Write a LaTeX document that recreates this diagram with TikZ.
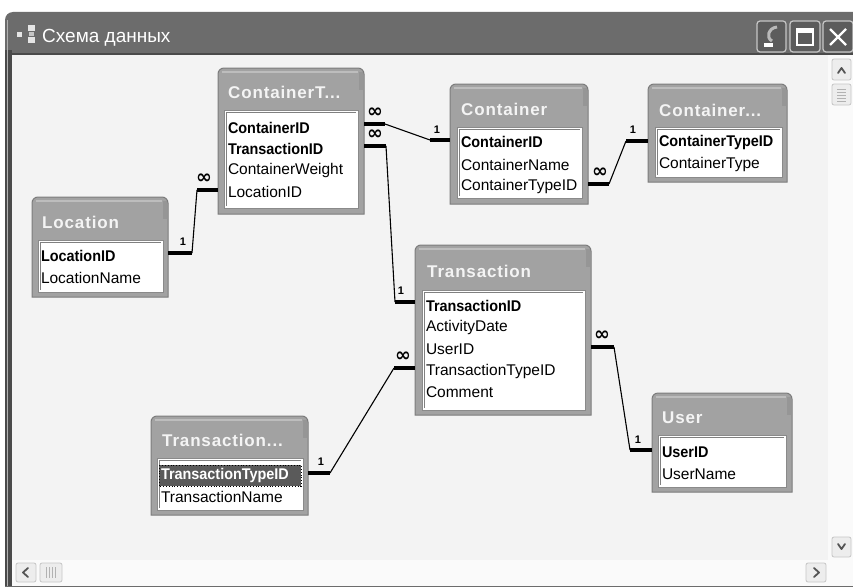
\documentclass[tikz,border=0pt]{standalone}
\usepackage{fontspec}
\setmainfont{Liberation Sans}
\newfontfamily\keyfont[FakeStretch=0.93]{Liberation Sans}
\newfontfamily\hdrfont[LetterSpace=5]{Liberation Sans}
\newfontfamily\symfont{DejaVu Sans}
\definecolor{titlebar}{HTML}{6C6C6C}
\definecolor{titleedge}{HTML}{4A4A4A}
\definecolor{contentbg}{HTML}{F3F3F3}
\definecolor{scrollbg}{HTML}{FAFAFA}
\definecolor{tblgray}{HTML}{A2A2A2}
\definecolor{tbllight}{HTML}{BDBDBD}
\definecolor{tbledge}{HTML}{7C7C7C}
\definecolor{fboxline}{HTML}{8A8A8A}
\definecolor{hdrtext}{HTML}{F4F4F4}
\definecolor{selgray}{HTML}{5A5A5A}
\definecolor{btnfill}{HTML}{EDEDED}
\definecolor{btnline}{HTML}{C6C6C6}
\definecolor{glyph}{HTML}{555555}
\tikzset{
  fld/.style={anchor=west, inner sep=0pt, outer sep=0pt, text=black,
    font=\fontsize{15.5}{18}\selectfont},
  key/.style={fld, font=\keyfont\bfseries\fontsize{15.5}{18}\selectfont},
  hdr/.style={anchor=west, inner sep=0pt, text=hdrtext,
    font=\hdrfont\bfseries\fontsize{17}{20}\selectfont},
  tblnode/.style={inner sep=0pt, outer sep=0pt, anchor=north west, draw=none},
  fieldbox/.style={inner sep=0pt, outer sep=0pt, anchor=north west, fill=white,
    draw=fboxline, line width=1pt},
  stub/.style={line width=3.2pt, line cap=butt, black},
  rel/.style={line width=1.1pt, black},
  one/.style={inner sep=0pt, font=\bfseries\fontsize{11}{12}\selectfont},
  many/.style={inner sep=0pt, font=\symfont\bfseries\fontsize{19}{20}\selectfont},
  winbtn/.style={inner sep=0pt, outer sep=0pt, anchor=north west, fill=titlebar!85!black,
    draw=btnline, line width=1.2pt, rounded corners=3pt},
  sbtn/.style={inner sep=0pt, outer sep=0pt, anchor=north west, fill=btnfill,
    draw=btnline, line width=0.8pt, rounded corners=2pt},
  glyphline/.style={glyph, line width=1.8pt, line cap=round, line join=round},
}
% name, x1, y1, x2, y2, fx1, fy1, fx2, fy2
\newcommand\dbframe[9]{%
  \node[tblnode, minimum width={#4-#2}, minimum height={#5-#3}] (#1) at (#2,#3) {};
  \fill[tblgray] (#1.south west) [rounded corners=6pt] -- (#1.north west) -- (#1.north east) [sharp corners] -- (#1.south east) -- cycle;
  \fill[tbllight] ({#2+4},{#3+3}) rectangle ({#4-6},{#3+5});
  \fill[tbledge!80] ({#4-5},{#3+4}) rectangle ({#4-1},{#3+22});
  \draw[tbledge, line width=1pt] (#1.south west) [rounded corners=6pt] -- (#1.north west) -- (#1.north east) [sharp corners] -- (#1.south east) -- cycle;
  \node[fieldbox, minimum width={#8-#6}, minimum height={#9-#7}] (#1f) at (#6,#7) {};
  \draw[gray, line width=1pt] ({#6+2},{#9-2}) -- ({#6+2},{#7+2}) -- ({#8-2},{#7+2});
}
\begin{document}
\begin{tikzpicture}[x=1pt,y=-1pt]
\useasboundingbox (0,0) rectangle (853,586);
\fill[white] (0,0) rectangle (853,586);
% window frame and title bar
\fill[titlebar] (5,600) [rounded corners=8pt] -- (5,12) -- (870,12) [sharp corners] -- (870,600) -- cycle;
\fill[titleedge] (5,50) rectangle (12,586);
\draw[gray!60, line width=0.8pt] (7,20) -- (7,586);
\fill[contentbg] (12,55) rectangle (828,560);
\fill[scrollbg] (828,55) rectangle (853,560);
\fill[scrollbg] (12,560) rectangle (853,586);
\draw[titleedge, line width=1.5pt] (12,54) -- (853,54);
% title icon and text
\fill[gray!20] (17,32) rectangle (22,37);
\fill[gray!20] (28,25) rectangle (35,31);
\fill[gray!20] (28,37) rectangle (35,43);
\fill[gray!45] (29,32) rectangle (34,36);
\node[anchor=west, inner sep=0pt, text=white, font=\fontsize{19}{22}\selectfont] (wtitle) at (42,38) {Схема данных};
% window buttons
\node[winbtn, minimum width=29, minimum height=31] (bmin) at (757,21) {};
\draw[gray!55, line width=3pt] (777,27) .. controls (768,28) and (766,38) .. (772,41);
\fill[white] (764,43) rectangle (773,47);
\node[winbtn, minimum width=30, minimum height=31] (bmax) at (790,21) {};
\draw[white, line width=1.2pt] (797,29) rectangle (813,45);
\fill[white] (797,29) rectangle (813,33);
\node[winbtn, minimum width=30, minimum height=31] (bcls) at (823,21) {};
\draw[white, line width=2.4pt] (830,29) -- (846,45) (846,29) -- (830,45);
% scrollbars
\node[sbtn, minimum width=19, minimum height=21] (sup) at (832,59) {};
\draw[glyphline] (838,73) -- (841.5,68) -- (845,73);
\node[sbtn, minimum width=19, minimum height=21] (sthumb) at (832,84) {};
\foreach \yy in {89,92,95,98,101} \draw[gray!60, line width=0.8pt] (837,\yy) -- (846,\yy);
\node[sbtn, minimum width=19, minimum height=20] (sdown) at (832,537) {};
\draw[glyphline] (838,544) -- (841.5,549) -- (845,544);
\node[sbtn, minimum width=20, minimum height=19] (sleft) at (16,563) {};
\draw[glyphline] (28,568) -- (23,572.5) -- (28,577);
\node[sbtn, minimum width=22, minimum height=19] (shthumb) at (40,563) {};
\foreach \xx in {46,49,52,55} \draw[gray!60, line width=0.8pt] (\xx,567) -- (\xx,578);
\node[sbtn, minimum width=20, minimum height=19] (sright) at (806,563) {};
\draw[glyphline] (814,568) -- (819,572.5) -- (814,577);

% ---------- tables ----------
\dbframe{ct}{218}{68}{364}{214}{224}{110}{358}{208}
\node[hdr] (ctt) at (228,92) {ContainerT...};
\node[key] (ct1) at (228,127.5) {ContainerID};
\node[key] (ct2) at (228,148.5) {TransactionID};
\node[fld] (ct3) at (228,170) {ContainerWeight};
\node[fld] (ct4) at (228,191.5) {LocationID};

\dbframe{c}{450}{84}{588}{204}{457}{127}{582}{198}
\node[hdr] (ctl) at (461,109) {Container};
\node[key] (c1) at (461,142) {ContainerID};
\node[fld] (c2) at (461,164.5) {ContainerName};
\node[fld] (c3) at (461,186.5) {ContainerTypeID};

\dbframe{cty}{648}{84}{787}{182}{655}{127}{782}{177}
\node[hdr] (ctyt) at (659,110) {Container...};
\node[key] (cty1) at (659,142) {ContainerTypeID};
\node[fld] (cty2) at (659,164) {ContainerType};

\dbframe{loc}{32}{197}{168}{297}{38}{240}{163}{292}
\node[hdr] (loct) at (42,222) {Location};
\node[key] (loc1) at (41,256) {LocationID};
\node[fld] (loc2) at (41,278) {LocationName};

\dbframe{tr}{415}{245}{591}{415}{422}{290}{585}{410}
\node[hdr] (trt) at (427,271) {Transaction};
\node[key] (tr1) at (426,306) {TransactionID};
\node[fld] (tr2) at (426,327.5) {ActivityDate};
\node[fld] (tr3) at (426,349) {UserID};
\node[fld] (tr4) at (426,371) {TransactionTypeID};
\node[fld] (tr5) at (426,392.5) {Comment};

\dbframe{tty}{151}{416}{308}{515}{157}{458}{303}{510}
\node[hdr] (ttyt) at (162,440) {Transaction...};
\fill[selgray] (159,465) rectangle (301,486);
\draw[black, dotted, line width=0.8pt] (159,465) rectangle (301,486);
\node[key, text=white] (tty1) at (161,475.5) {TransactionTypeID};
\node[fld] (tty2) at (161,497) {TransactionName};

\dbframe{usr}{652}{393}{792}{492}{658}{435}{786}{487}
\node[hdr] (usrt) at (662,418) {User};
\node[key] (usr1) at (662,452) {UserID};
\node[fld] (usr2) at (662,474) {UserName};

% ---------- relationships ----------
% ContainerT -> Container
\coordinate (r1a) at (385,124);
\coordinate (r1b) at (430,140);
\draw[stub] (ct.east |- r1a) -- (r1a);
\draw[rel] (r1a) -- (r1b);
\draw[stub] (r1b) -- (c.west |- r1b);
\node[many] (r1m) at (375,113) {∞};
\node[one] (r1o) at (437,130) {1};
% ContainerT -> Transaction
\coordinate (r2a) at (386,146);
\coordinate (r2b) at (395,302);
\draw[stub] (ct.east |- r2a) -- (r2a);
\draw[rel] (r2a) -- (r2b);
\draw[stub] (r2b) -- (tr.west |- r2b);
\node[many] (r2m) at (375,135) {∞};
\node[one] (r2o) at (401,291) {1};
% Location -> ContainerT
\coordinate (r3a) at (192,253);
\coordinate (r3b) at (197,190);
\draw[stub] (loc.east |- r3a) -- (r3a);
\draw[rel] (r3a) -- (r3b);
\draw[stub] (r3b) -- (ct.west |- r3b);
\node[one] (r3o) at (183,242) {1};
\node[many] (r3m) at (204,179) {∞};
% Container -> ContainerType
\coordinate (r4a) at (609,184);
\coordinate (r4b) at (626,141);
\draw[stub] (c.east |- r4a) -- (r4a);
\draw[rel] (r4a) -- (r4b);
\draw[stub] (r4b) -- (cty.west |- r4b);
\node[many] (r4m) at (600,173) {∞};
\node[one] (r4o) at (633,130) {1};
% Transaction -> User
\coordinate (r5a) at (614,347);
\coordinate (r5b) at (630,450);
\draw[stub] (tr.east |- r5a) -- (r5a);
\draw[rel] (r5a) -- (r5b);
\draw[stub] (r5b) -- (usr.west |- r5b);
\node[many] (r5m) at (602,336) {∞};
\node[one] (r5o) at (638,440) {1};
% TransactionType -> Transaction
\coordinate (r6a) at (330,473);
\coordinate (r6b) at (394,368);
\draw[stub] (tty.east |- r6a) -- (r6a);
\draw[rel] (r6a) -- (r6b);
\draw[stub] (r6b) -- (tr.west |- r6b);
\node[one] (r6o) at (321,462) {1};
\node[many] (r6m) at (403,357) {∞};
\end{tikzpicture}
\end{document}
